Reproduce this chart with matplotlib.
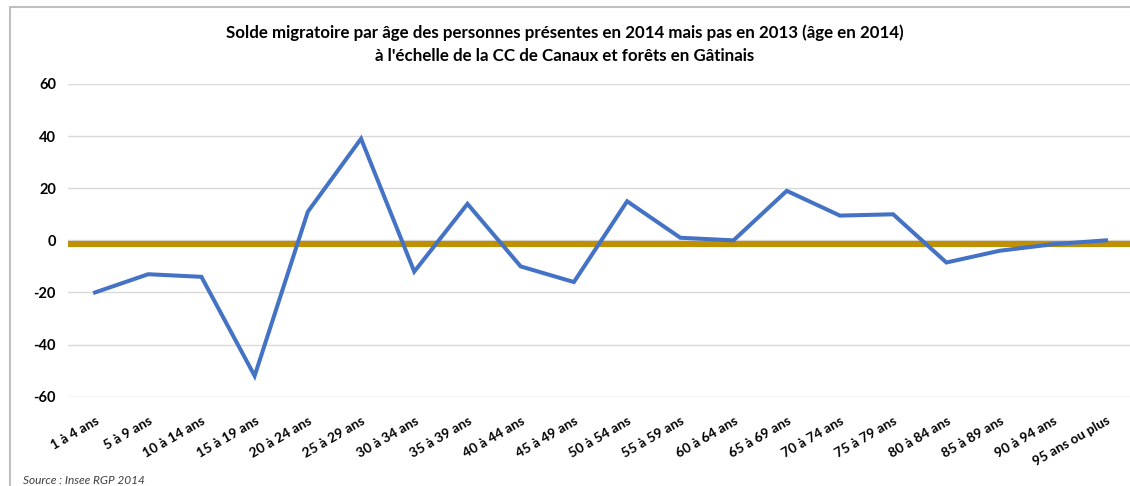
import matplotlib
matplotlib.use("Agg")
import matplotlib.pyplot as plt
from matplotlib.patches import Rectangle

categories = ["1 à 4 ans", "5 à 9 ans", "10 à 14 ans", "15 à 19 ans", "20 à 24 ans",
              "25 à 29 ans", "30 à 34 ans", "35 à 39 ans", "40 à 44 ans", "45 à 49 ans",
              "50 à 54 ans", "55 à 59 ans", "60 à 64 ans", "65 à 69 ans", "70 à 74 ans",
              "75 à 79 ans", "80 à 84 ans", "85 à 89 ans", "90 à 94 ans", "95 ans ou plus"]
solde = [-20, -13, -14, -52, 11, 39, -12, 14, -10, -16,
         15, 1, 0, 19, 9.5, 10, -8.5, -4, -1.5, 0]
reference_level = -1.4
yticks = [-60, -40, -20, 0, 20, 40, 60]

W, H = 1130, 486
fig = plt.figure(figsize=(W / 100, H / 100), dpi=100)
ax = fig.add_axes([68.4 / W, 1 - 396.7 / H, (1132.6 - 68.4) / W, (396.7 - 84) / H])

x = list(range(len(categories)))
ax.set_xlim(-0.5, len(categories) - 0.5)
ax.set_ylim(-60, 60)
ax.set_yticks(yticks)
for t in yticks:
    ax.axhline(t, color="#D9D9D9", lw=1.0, zorder=1)
ax.axhline(reference_level, color="#BF9000", lw=4.4, zorder=2, solid_capstyle="butt")
ax.plot(x, solde, color="#4472C4", lw=2.9, zorder=3, solid_joinstyle="miter")

for s in ax.spines.values():
    s.set_visible(False)
ax.tick_params(axis="both", length=0)
ax.tick_params(axis="y", pad=9)
ax.set_yticklabels([str(t) for t in yticks], fontsize=10.5, fontweight="bold", family="Lato")
ax.set_xticks(x)
ax.set_xticklabels(categories, rotation=30, ha="right", rotation_mode="anchor",
                   fontsize=9.8, fontweight="bold", family="Lato")
ax.tick_params(axis="x", pad=13)

fig.text(0.5, 1 - 33 / H, "Solde migratoire par âge des personnes présentes en 2014 mais pas en 2013 (âge en 2014)",
         ha="center", va="center", fontsize=12.2, fontweight="bold", family="Lato")
fig.text(0.5, 1 - 56 / H, "à l'échelle de la CC de Canaux et forêts en Gâtinais",
         ha="center", va="center", fontsize=12.2, fontweight="bold", family="Lato")
fig.text(23 / W, 1 - 480 / H, "Source : Insee RGP 2014", ha="left", va="center",
         fontsize=8.6, style="italic", family="Lato", color="#404040")

fig.patches.append(Rectangle((10 / W, -0.1), 1.2, 1 - 7 / H + 0.1, transform=fig.transFigure,
                             fill=False, edgecolor="#BFBFBF", lw=1.5))

fig.savefig("out.png", dpi=100)
